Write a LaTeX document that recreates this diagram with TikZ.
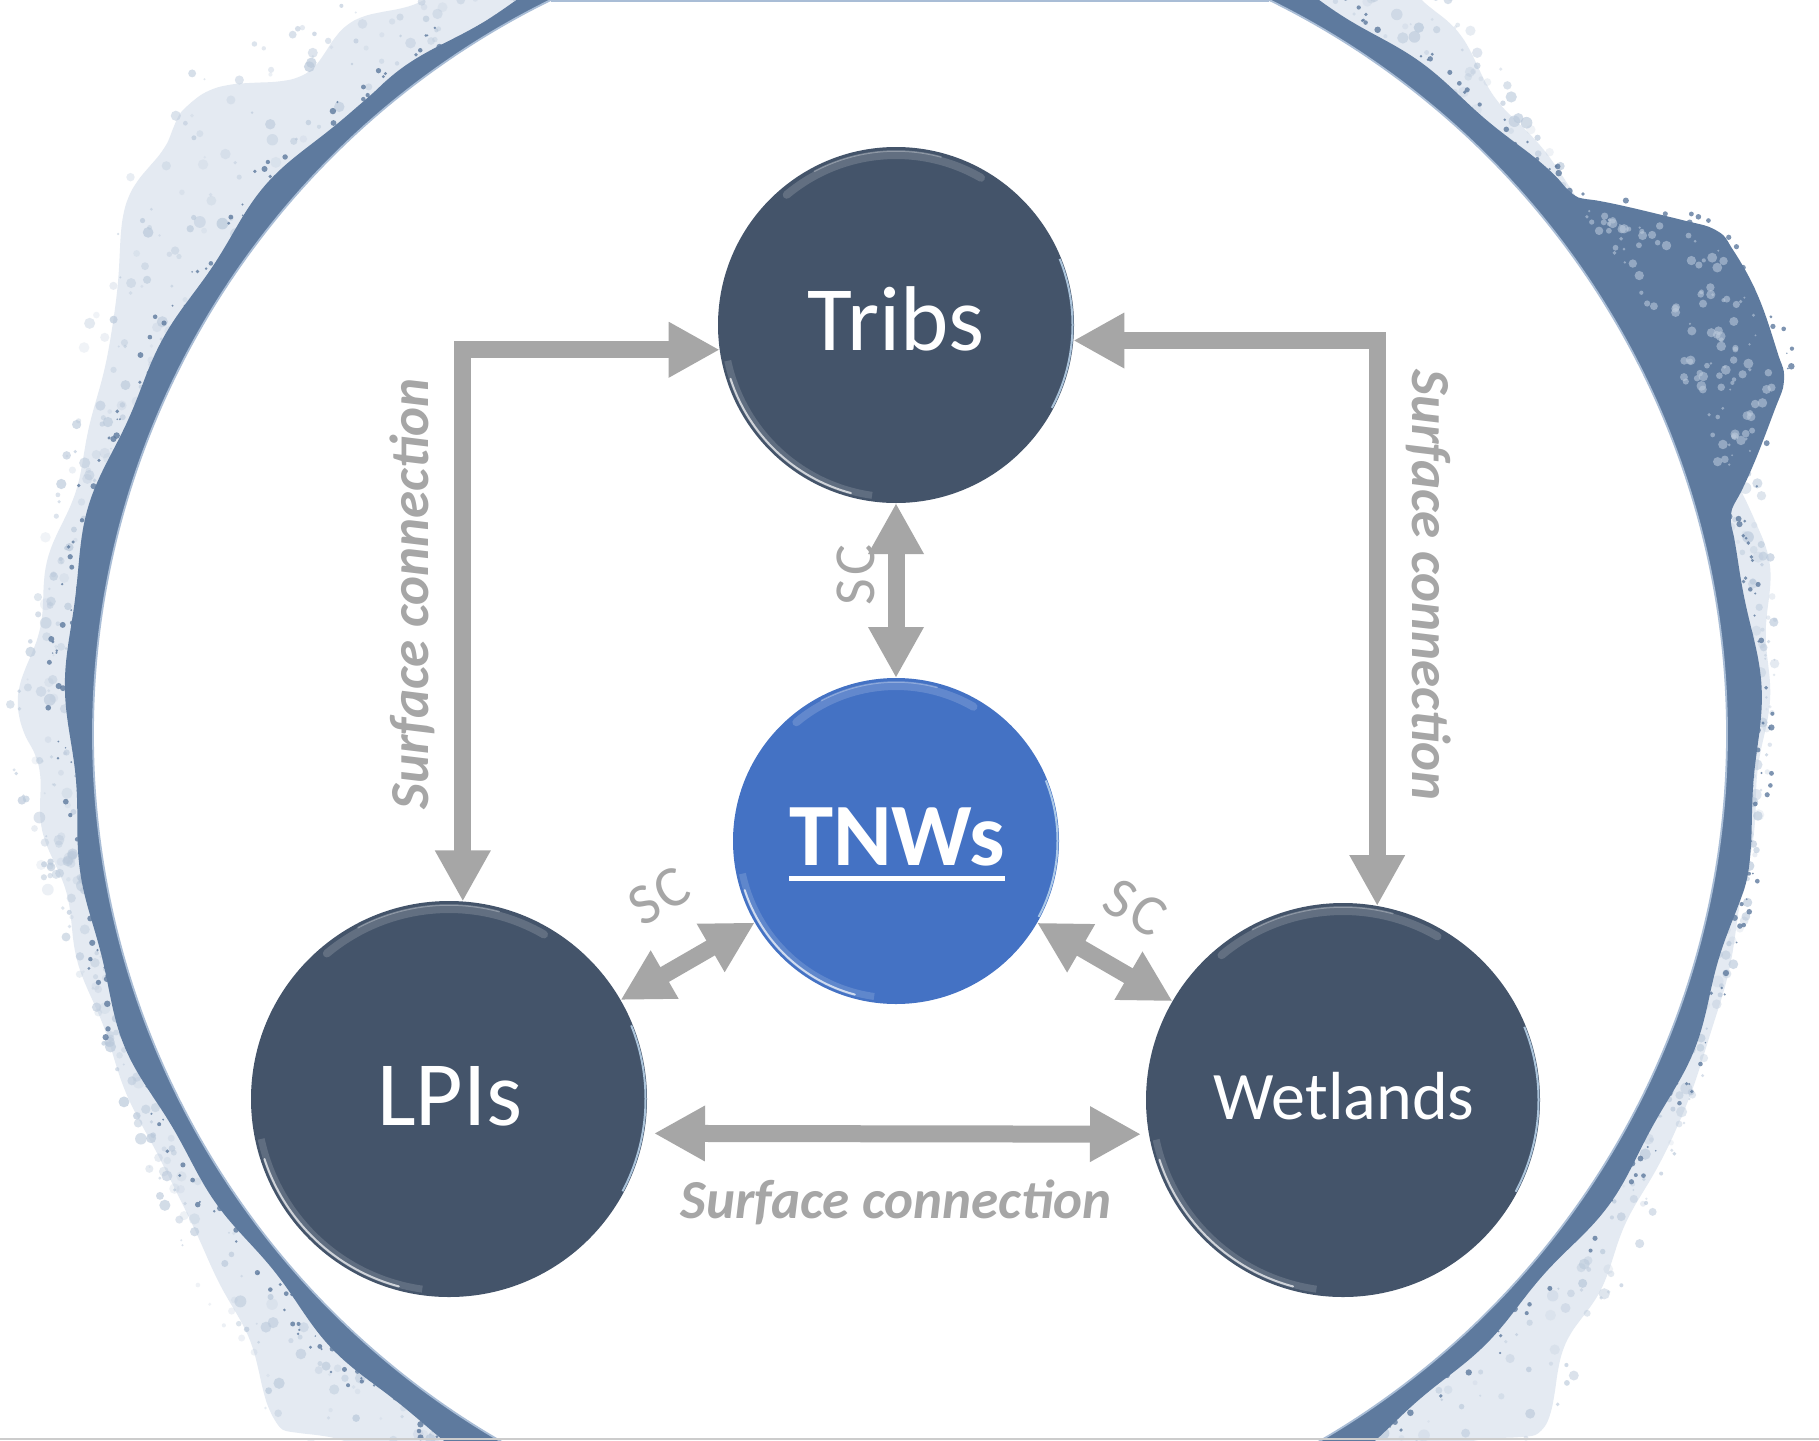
\documentclass[tikz,border=0pt]{standalone}
\usepackage{fontspec}
\setmainfont{Carlito}
\usetikzlibrary{arrows.meta}
\definecolor{slate}{HTML}{44546A}
\definecolor{tnwblue}{HTML}{4472C4}
\definecolor{agrey}{HTML}{A6A6A6}
\definecolor{ringc}{HTML}{5E7A9E}
\definecolor{splatA}{HTML}{E4EAF2}
\definecolor{splatB}{HTML}{B9C8DA}
\definecolor{rimline}{HTML}{A9BDD6}
\definecolor{lightrim}{HTML}{BDD7EE}
\newcommand\ulbox[1]{\setbox0\hbox{#1}\rlap{\rule[-16pt]{\wd0}{5pt}}\box0}
\newcommand\glossrim[3]{%
  \begin{scope}[shift={(#1.center)}, yscale=-1]
    \draw[white, opacity=0.15, line width=7pt] (192:{#2-6}) arc[start angle=192, end angle=262, radius={#2-6}];
    \draw[white, opacity=0.7, line width=2pt, line cap=round] (198:{#2-4}) arc[start angle=198, end angle=255, radius={#2-4}];
    \draw[white, opacity=0.16, line width=8pt, line cap=round] (60:{#2-8}) arc[start angle=60, end angle=130, radius={#2-8}];
    \draw[white, opacity=0.3, line width=1.5pt, line cap=round] (75:{#2-4}) arc[start angle=75, end angle=118, radius={#2-4}];
    \draw[#3, opacity=0.85, line width=2pt] (-28:{#2-1.5}) arc[start angle=-28, end angle=22, radius={#2-1.5}];
  \end{scope}}
\begin{document}
\begin{tikzpicture}[x=1pt,y=-1pt,
  declare function={
    bmp(\qA,\qC,\qW)=max(0,1-abs(\qA-\qC)/\qW)*max(0,1-abs(\qA-\qC)/\qW);
    plat(\qA,\qC,\qW)=min(1,1.7*max(0,1-abs(\qA-\qC)/\qW));
    Lf(\pA)=18+140*bmp(\pA,140,40)+50*bmp(\pA,180,30)+90*bmp(\pA,228,35)+90*bmp(\pA,312,35)+120*bmp(\pA,62,30)+35*bmp(\pA,15,25)+35*bmp(\pA,375,25);
    Ro(\pA)=843+5*sin(3*\pA)+4*sin(11*\pA+40)+3*sin(29*\pA)+105*plat(\pA,27,12)-12*bmp(\pA,130,35)+10*bmp(\pA,350,25)+10*bmp(\pA,-10,25);
  },
  bigc/.style={circle, inner sep=0pt, outer sep=0pt, draw=none},
  lbl/.style={text=white, inner sep=0pt},
  conn/.style={draw=agrey, line width=17pt, line join=miter, >={Triangle[length=51pt,width=52pt]}, <->},
  sclbl/.style={text=agrey, inner sep=0pt, font=\fontsize{58}{58}\selectfont},
  surf/.style={text=agrey, inner sep=0pt, font=\fontsize{55}{55}\selectfont\bfseries\itshape}
]
\useasboundingbox (0,0) rectangle (1819,1440);
\fill[white] (0,0) rectangle (1819,1440);

% ---- watercolour ring ----
\begin{scope}
  \clip (0,0) rectangle (1819,1440);
  \begin{scope}[shift={(910,734)}, yscale=-1]
    \fill[splatA, even odd rule] plot[domain=0:359.5, samples=400, smooth cycle]
      (\x:{836+Lf(\x)*(0.76+0.12*sin(13*\x)+0.07*sin(37*\x+20)+0.05*sin(43*\x))}) (0,0) circle[radius=830];
    \pgfmathsetseed{7}
    \foreach \i in {1,...,1100}{
      \pgfmathsetmacro\ta{rnd*360}
      \pgfmathsetmacro\ra{838+rnd*Lf(\ta)}
      \pgfmathsetmacro\sa{1+rnd*5}
      \pgfmathsetmacro\oa{0.2+0.5*rnd}
      \fill[splatB, opacity=\oa] (\ta:\ra) circle[radius=\sa];
    }
    \fill[ringc, even odd rule] plot[domain=0:359.5, samples=400, smooth cycle]
      (\x:{Ro(\x)}) (0,0) circle[radius=817];
    \foreach \i in {1,...,400}{
      \pgfmathsetmacro\tb{rnd*360}
      \pgfmathsetmacro\rb{Ro(\tb)-4+rnd*22}
      \pgfmathsetmacro\sb{0.8+rnd*2.5}
      \fill[ringc, opacity=0.8] (\tb:\rb) circle[radius=\sb];
    }
    \foreach \i in {1,...,120}{
      \pgfmathsetmacro\tc{18+rnd*20}
      \pgfmathsetmacro\rc{850+rnd*(Ro(\tc)-860)}
      \pgfmathsetmacro\szc{1+rnd*4}
      \fill[splatB, opacity=0.6] (\tc:\rc) circle[radius=\szc];
    }
    \draw[rimline, line width=1.8pt] (0,0) circle[radius=817];
  \end{scope}
  \draw[rimline, line width=2pt] (551,1) -- (1269,1);
  \draw[black!20, line width=1.5pt] (0,1439) -- (1819,1439);
\end{scope}

% ---- circles ----
\node[bigc, fill=slate, minimum size=356pt] (tribs) at (896,325) {};
\node[bigc, fill=tnwblue, minimum size=326pt] (tnws) at (896,841) {};
\node[bigc, fill=slate, minimum size=396pt] (lpis) at (449,1099) {};
\node[bigc, fill=slate, minimum size=394pt] (wetlands) at (1343,1100) {};
\glossrim{tribs}{178}{lightrim}
\glossrim{tnws}{163}{lightrim}
\glossrim{lpis}{198}{lightrim}
\glossrim{wetlands}{197}{lightrim}

\node[lbl, anchor=base, font=\fontsize{92}{92}\selectfont] (tribsT) at (896,350) {Tribs};
\node[lbl, anchor=base, font=\fontsize{89}{89}\selectfont\bfseries] (tnwsT) at (897,865) {\ulbox{TNWs}};
\node[lbl, anchor=base, font=\fontsize{92}{92}\selectfont] (lpisT) at (450,1125) {LPIs};
\node[lbl, anchor=base, font=\fontsize{68}{68}\selectfont] (wetT) at (1344,1119) {Wetlands};

% ---- connectors ----
\draw[conn] (tribs.188) -| (lpis.86);
\draw[conn] (tribs.-5) -| (wetlands.80);
\draw[conn] (tribs.south) -- (tnws.north);
\draw[conn] (lpis) -- (tnws);
\draw[conn] (tnws) -- (wetlands);
\draw[conn, shorten <=10pt, shorten >=8pt] (lpis.-10) -- (wetlands.190);

% ---- labels ----
\node[surf, rotate=90] (surfL) at (412,594) {Surface connection};
\node[surf, rotate=-90] (surfR) at (1429,585) {Surface connection};
\node[surf, anchor=base] (surfB) at (896,1218) {Surface connection};
\node[sclbl, rotate=90] (scv) at (856,575) {S\kern3pt C};
\node[sclbl, rotate=30] (scl) at (659,896) {S\kern3pt C};
\node[sclbl, rotate=-30] (scr) at (1135,908) {S\kern3pt C};
\end{tikzpicture}
\end{document}
